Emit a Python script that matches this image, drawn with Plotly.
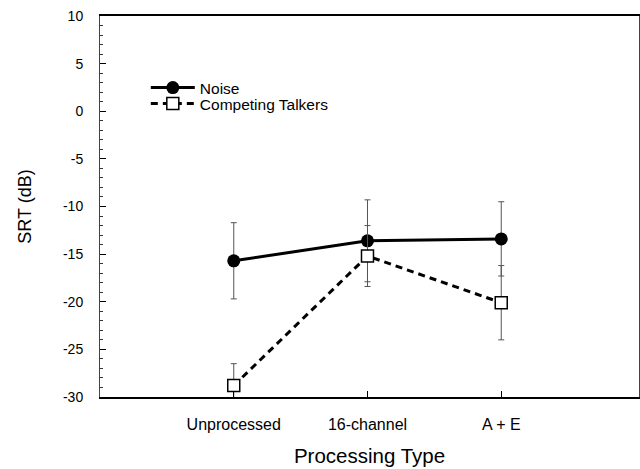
import plotly.graph_objects as go

categories = ["Unprocessed", "16-channel", "A + E"]
x_pos = [1, 2, 3]
noise = [-15.7, -13.6, -13.4]
noise_err = [4.0, 4.3, 3.9]
talkers = [-28.8, -15.2, -20.1]
talkers_err = [2.3, 3.2, 3.9]
y_ticks = [10, 5, 0, -5, -10, -15, -20, -25, -30]
y_ticktext = ["10", "5", "0", "-5", "-10", "-15", "-20", "-25", "-30"]

FONT = "Liberation Sans, Arial, Helvetica, sans-serif"

fig = go.Figure()
fig.add_trace(go.Scatter(
    x=x_pos, y=noise, name="Noise", mode="lines+markers", legend="legend",
    line=dict(color="black", width=3),
    marker=dict(symbol="circle", size=13, color="black"),
    error_y=dict(type="data", array=noise_err, color="#555", thickness=1, width=3),
))
fig.add_trace(go.Scatter(
    x=x_pos, y=talkers, name="Competing Talkers", mode="lines+markers", legend="legend2",
    line=dict(color="black", width=3, dash="7px,5px"),
    marker=dict(symbol="square", size=12, color="white", line=dict(color="black", width=1.5)),
    error_y=dict(type="data", array=talkers_err, color="#555", thickness=1, width=3),
))

legend_common = dict(xanchor="left", yanchor="middle", bgcolor="rgba(0,0,0,0)",
                     font=dict(size=15.5, family=FONT), itemwidth=44)
fig.update_layout(
    autosize=False,
    width=640, height=469,
    margin=dict(l=100, r=1, t=16, b=72),
    paper_bgcolor="white", plot_bgcolor="white",
    font=dict(family=FONT, color="black", size=13),
    showlegend=True,
    legend=dict(x=0.085, y=0.811, **legend_common),
    legend2=dict(x=0.085, y=0.769, **legend_common),
    yaxis2=dict(
        overlaying="y", side="right", anchor="x", automargin=False,
        range=[-30, 10], tickmode="array", tickvals=y_ticks,
        showticklabels=False, showgrid=False, zeroline=False, showline=False,
        ticks="inside", ticklen=6, tickcolor="black", tickwidth=1,
        minor=dict(tickmode="linear", ticks="inside", dtick=1, tick0=0, ticklen=3,
                   tickcolor="#333", tickwidth=1),
    ),
)
fig.update_xaxes(
    automargin=False,
    range=[0, 4.03], tickmode="array", tickvals=x_pos, ticktext=categories,
    ticks="inside", ticklen=6, tickcolor="black", tickwidth=1,
    showline=True, linecolor="black", linewidth=2, mirror=True,
    showgrid=False, zeroline=False,
    tickfont=dict(size=16), ticklabelstandoff=12,
    title=dict(text="Processing Type", font=dict(size=20.5), standoff=16),
)
fig.update_yaxes(
    selector=dict(overlaying=None),
    automargin=False,
    range=[-30, 10], tickmode="array", tickvals=y_ticks, ticktext=y_ticktext,
    ticks="inside", ticklen=6, tickcolor="black", tickwidth=1,
    minor=dict(tickmode="linear", ticks="inside", dtick=1, tick0=0, ticklen=3,
               tickcolor="#333", tickwidth=1),
    showline=True, linecolor="#444", linewidth=1, mirror=True,
    showgrid=False, zeroline=False,
    tickfont=dict(size=14), ticklabelstandoff=13,
    title=dict(text="SRT (dB)", font=dict(size=18), standoff=26),
)

fig.write_html("out.html", config={"displayModeBar": False},
               post_script="document.body.style.margin='0px';")
